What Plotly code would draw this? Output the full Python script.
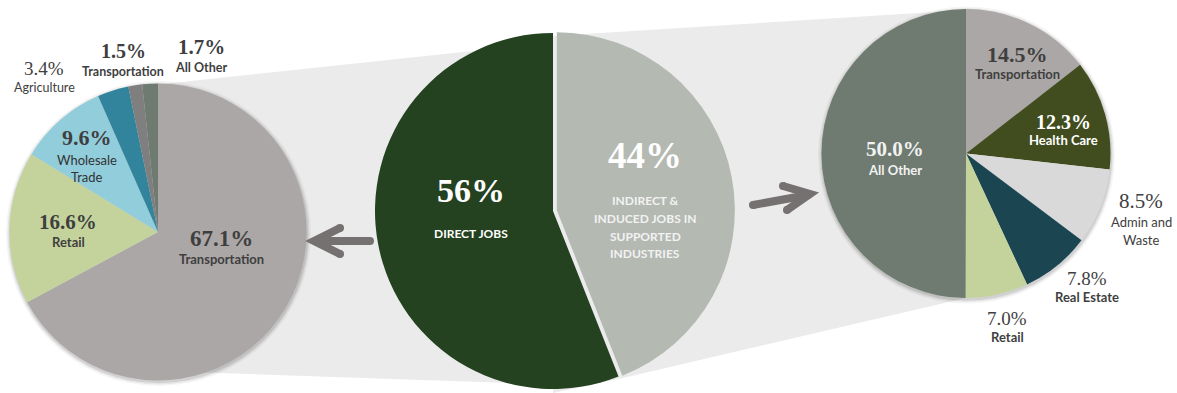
import plotly.graph_objects as go

# ---- data -------------------------------------------------------------
job_types = ["DIRECT JOBS", "INDIRECT &\nINDUCED JOBS IN\nSUPPORTED\nINDUSTRIES"]
job_shares = [56, 44]

direct_industries = ["Transportation", "Retail", "Wholesale\nTrade", "Agriculture",
                     "Transportation", "All Other"]
direct_shares = [67.1, 16.6, 9.6, 3.4, 1.5, 1.7]

supported_industries = ["Transportation", "Health Care", "Admin and\nWaste", "Real Estate",
                        "Retail", "All Other"]
supported_shares = [14.5, 12.3, 8.5, 7.8, 7.0, 50.0]

# ---- styling ----------------------------------------------------------
W, H = 1177, 393
SERIF = "Liberation Serif"
SANS = "Lato"
DARK = "#3f3f3f"
MUTED = "#404040"

job_colors = ["#244220", "#b4b9b2"]
direct_colors = ["#aba7a6", "#c4d39c", "#92cddc", "#31849b", "#7f7f7f", "#6f7b70"]
supported_colors = ["#aba7a6", "#414d1e", "#d9d9d9", "#1a4551", "#c4d39c", "#6f7b70"]

# pie geometry in screen pixels: centre x, centre y, radius
LEFT = (158, 232, 148.5)
MID = (553, 211, 178)
RIGHT = (966, 153.5, 144.5)
MID_PULL = 0.022


def px(x):
    return x / W


def py(y):
    return 1 - y / H


def domain(cx, cy, r, pull=0.0):
    h = r * (1 + pull)
    return dict(x=[max(0, px(cx - h)), min(1, px(cx + h))],
                y=[max(0, py(cy + h)), min(1, py(cy - h))])


fig = go.Figure()

fig.add_trace(go.Pie(
    values=direct_shares, labels=[f"{n} ({i})" for i, n in enumerate(direct_industries)],
    marker=dict(colors=direct_colors, line=dict(width=0)),
    sort=False, direction="clockwise", rotation=0, textinfo="none",
    hoverinfo="skip", domain=domain(*LEFT)))

# the supported-industries share is drawn first so it sits clockwise from 12 o'clock
fig.add_trace(go.Pie(
    values=job_shares[::-1], labels=job_types[::-1],
    marker=dict(colors=job_colors[::-1], line=dict(width=0)),
    sort=False, direction="clockwise", rotation=0, textinfo="none",
    pull=[MID_PULL, 0], hoverinfo="skip", domain=domain(*MID, pull=MID_PULL)))

fig.add_trace(go.Pie(
    values=supported_shares, labels=[f"{n} ({i})" for i, n in enumerate(supported_industries)],
    marker=dict(colors=supported_colors, line=dict(width=0)),
    sort=False, direction="clockwise", rotation=0, textinfo="none",
    hoverinfo="skip", domain=domain(*RIGHT)))

shapes = []


def poly(points, color):
    d = "M " + " L ".join(f"{px(x):.5f},{py(y):.5f}" for x, y in points) + " Z"
    shapes.append(dict(type="path", path=d, xref="paper", yref="paper",
                       fillcolor=color, line=dict(width=0), layer="below"))


# light connector bands behind the pies
poly([(158, 84.5), (553, 42.5), (553, 384.5), (158, 371)], "#ebebeb")
poly([(553, 36), (966, 10), (966, 298), (623, 378), (553, 393)], "#ebebeb")

# soft shadow rings under the side pies
for cx, cy, r in (LEFT, RIGHT):
    for grow, alpha in ((4, 0.04), (2.5, 0.06), (1.2, 0.09)):
        shapes.append(dict(type="circle", xref="paper", yref="paper",
                           x0=px(cx - r - grow + 0.5), x1=px(cx + r + grow + 0.5),
                           y0=py(cy + r + grow + 1.5), y1=py(cy - r - grow + 1.5),
                           fillcolor=f"rgba(0,0,0,{alpha})", line=dict(width=0),
                           layer="below"))

# arrows pointing at the breakdown pies
ARROW = "#767171"


def stroke(points):
    d = "M " + " L ".join(f"{px(x):.5f},{py(y):.5f}" for x, y in points)
    shapes.append(dict(type="path", path=d, xref="paper", yref="paper",
                       line=dict(color=ARROW, width=8), layer="above"))
    for x, y in (points[0], points[-1]):
        shapes.append(dict(type="circle", xref="paper", yref="paper",
                           x0=px(x - 4), x1=px(x + 4), y0=py(y + 4), y1=py(y - 4),
                           fillcolor=ARROW, line=dict(width=0), layer="above"))


stroke([(370, 241), (316, 241)])
stroke([(340, 228), (314, 241), (340, 254)])
stroke([(753, 205), (808, 195)])
stroke([(783, 186), (810, 194), (787, 210)])

fig.update_layout(shapes=shapes)

# ---- labels -----------------------------------------------------------
annotations = []


def text(x, y, s, size, color, family, bold=True):
    annotations.append(dict(x=px(x), y=py(y), xref="paper", yref="paper", text=s,
                            showarrow=False, xanchor="center", yanchor="middle",
                            font=dict(family=family, size=size, color=color,
                                      weight="bold" if bold else "normal")))


def block(x, y_pct, y_name, pct, name, pct_size, name_size, color, name_color=None,
          pct_bold=True, name_bold=True, gap=17.5):
    text(x, y_pct, pct, pct_size, color, SERIF, pct_bold)
    for k, line in enumerate(name.split("\n")):
        text(x, y_name + k * gap, line, name_size, name_color or color, SANS, name_bold)


def pct1(v):
    return f"{v:.1f}%"


# direct jobs breakdown (left)
left_pos = [  # x, y of percent, y of first name line, sizes, colours, bolds
    (221, 238, 259, 23, 13, DARK, DARK, True, True),
    (68, 222, 242, 21, 13, DARK, DARK, True, True),
    (87, 138, 160, 22, 13, DARK, "#333333", True, False),
    (44, 68, 87, 19, 12.5, MUTED, MUTED, False, False),
    (123, 51, 72, 20, 12.5, DARK, DARK, True, True),
    (201, 47, 67, 21, 12.5, DARK, DARK, True, True),
]
for (x, yp, yn, ps, ns, c, nc, pb, nb), name, v in zip(left_pos, direct_industries, direct_shares):
    block(x, yp, yn, pct1(v), name, ps, ns, c, nc, pb, nb)

# total jobs split (middle)
mid_pos = [
    (471, 191, 233, 34, 12, "#ffffff", "#ffffff"),
    (645, 155, 201, 37, 12, "#ffffff", "#f2f2f2"),
]
for (x, yp, yn, ps, ns, c, nc), name, v in zip(mid_pos, job_types, job_shares):
    block(x, yp, yn, f"{v}%", name, ps, ns, c, nc)

# supported industries breakdown (right)
right_pos = [
    (1017, 54, 74, 22, 13, DARK, DARK, True, True),
    (1063, 122, 140, 20, 13, "#ffffff", "#ffffff", True, True),
    (1141, 201, 222, 21, 13, MUTED, MUTED, False, False),
    (1087, 278, 297, 19, 13, DARK, DARK, False, True),
    (1007, 318, 337, 19, 13, DARK, DARK, False, True),
    (895, 149, 170, 21, 13, "#f2f2f2", "#f2f2f2", True, True),
]
for (x, yp, yn, ps, ns, c, nc, pb, nb), name, v in zip(right_pos, supported_industries,
                                                       supported_shares):
    block(x, yp, yn, pct1(v), name, ps, ns, c, nc, pb, nb, gap=18)

fig.update_layout(
    annotations=annotations,
    width=W, height=H,
    margin=dict(l=0, r=0, t=0, b=0),
    paper_bgcolor="#ffffff", plot_bgcolor="#ffffff",
    showlegend=False,
)

fig.write_html("out.html")
